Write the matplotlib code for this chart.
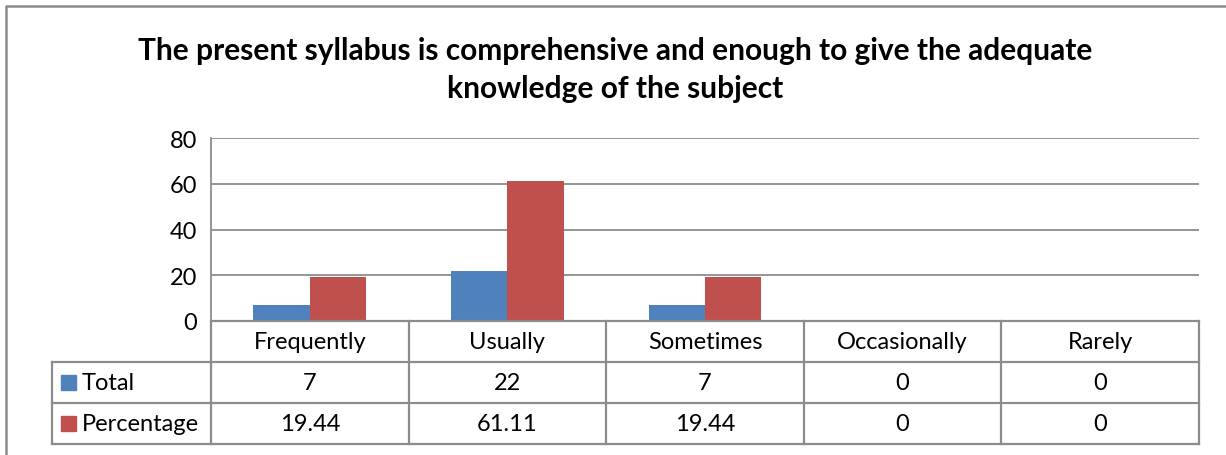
import matplotlib
matplotlib.use("Agg")
import matplotlib.pyplot as plt
import numpy as np

categories = ["Frequently", "Usually", "Sometimes", "Occasionally", "Rarely"]
series_names = ["Total", "Percentage"]
total = [7, 22, 7, 0, 0]
percentage = [19.44, 61.11, 19.44, 0, 0]
total_labels = ["7", "22", "7", "0", "0"]
percentage_labels = ["19.44", "61.11", "19.44", "0", "0"]
yticks = [0, 20, 40, 60, 80]
title = "The present syllabus is comprehensive and enough to give the adequate\nknowledge of the subject"

colors = ["#4F81BD", "#C0504D"]
grid_c = "#8C8C8C"
FONT = "Lato"
plt.rcParams["font.family"] = [FONT, "DejaVu Sans"]

W, H = 1226, 456
fig = plt.figure(figsize=(W / 100, H / 100), dpi=100)

# pixel geometry
L, R, T, B = 211, 1199, 139, 322
tab_left = 52
row_edges = [322, 363, 404, 445]

ax = fig.add_axes([L / W, (H - B) / H, (R - L) / W, (B - T) / H])
n = len(categories)
x = np.arange(n)
bw = 1 / 3.5
ax.bar(x - bw / 2, total, bw, color=colors[0], zorder=3)
ax.bar(x + bw / 2, percentage, bw, color=colors[1], zorder=3)
ax.set_xlim(-0.5, n - 0.5)
ax.set_ylim(0, 80)
ax.set_yticks(yticks)
fs = 17
ax.set_yticklabels([str(v) for v in yticks], fontsize=fs)
ax.tick_params(axis="y", length=0, pad=10)
ax.set_xticks([])
ax.yaxis.grid(True, color=grid_c, linewidth=1.3, zorder=0)
for s in ["top", "right", "bottom"]:
    ax.spines[s].set_visible(False)
ax.spines["left"].set_color(grid_c)
ax.spines["left"].set_linewidth(1.3)

# overlay in pixel coordinates
ov = fig.add_axes([0, 0, 1, 1], zorder=5)
ov.set_xlim(0, W)
ov.set_ylim(H, 0)
ov.axis("off")
ov.patch.set_alpha(0)

# outer frame (left and top visible)
ov.plot([6, 6, W], [H, 7, 7], color="#8C8C8C", linewidth=1.8, solid_capstyle="butt")

# title
ov.text(615, 70, title, ha="center", va="center", fontsize=21.5, fontweight="bold",
        linespacing=1.42, color="black")

# table grid
col_edges = [L + (R - L) * i / n for i in range(n + 1)]
lw = 1.6
ov.plot([L, R], [row_edges[0], row_edges[0]], color=grid_c, lw=lw)
for ce in col_edges:
    ov.plot([ce, ce], [row_edges[0], row_edges[3]], color=grid_c, lw=lw)
for re in row_edges[1:]:
    ov.plot([tab_left, R], [re, re], color=grid_c, lw=lw)
ov.plot([tab_left, tab_left], [row_edges[1], row_edges[3]], color=grid_c, lw=lw)

for i, c in enumerate(categories):
    cx = (col_edges[i] + col_edges[i + 1]) / 2
    ov.text(cx, (row_edges[0] + row_edges[1]) / 2, c, ha="center", va="center", fontsize=fs)
    ov.text(cx, (row_edges[1] + row_edges[2]) / 2, total_labels[i], ha="center", va="center", fontsize=fs)
    ov.text(cx, (row_edges[2] + row_edges[3]) / 2, percentage_labels[i], ha="center", va="center", fontsize=fs)

for k, name in enumerate(series_names):
    cy = (row_edges[k + 1] + row_edges[k + 2]) / 2
    ov.add_patch(plt.Rectangle((61, cy - 7.5), 15, 15, color=colors[k]))
    ov.text(82, cy, name, ha="left", va="center", fontsize=fs)

fig.savefig("out.png", dpi=100)
